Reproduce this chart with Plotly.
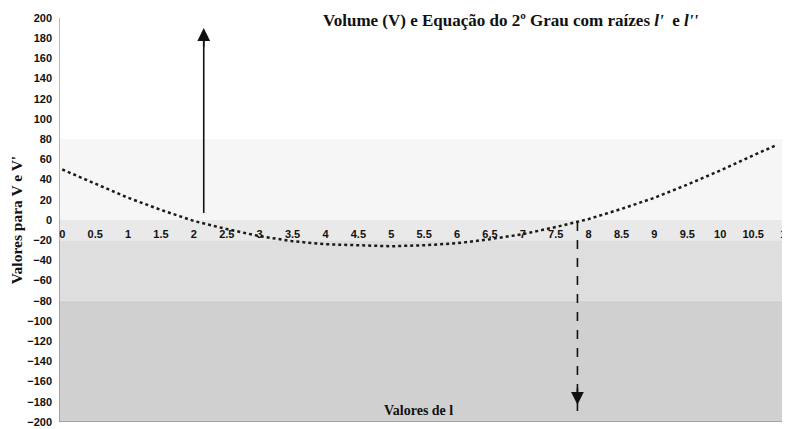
import plotly.graph_objects as go

# Values of l (x) and the quadratic / volume curve
l_values = [0, 0.5, 1, 1.5, 2, 2.5, 3, 3.5, 4, 4.5, 5, 5.5, 6, 6.5, 7, 7.5,
            8, 8.5, 9, 9.5, 10, 10.5, 10.85]
v_values = [50, 36, 22, 10, -1, -9, -16, -21, -24, -25, -26, -25, -23, -19,
            -14, -7, 1, 11, 22, 35, 49, 64, 74]

# Roots l' and l'' marked by arrows
root_1 = 2.15
root_2 = 7.83

x_ticks = [i * 0.5 for i in range(23)]
x_tick_text = ["0", "0.5", "1", "1.5", "2", "2.5", "3", "3.5", "4", "4.5", "5",
               "5.5", "6", "6.5", "7", "7.5", "8", "8.5", "9", "9.5", "10",
               "10.5", "11"]
y_ticks = list(range(-200, 201, 20))

fig = go.Figure()

# scanned stipple background approximation
bands = [(-200, -80, "#d0d0d0"), (-80, -20, "#dedede"), (-20, 0, "#e9e9e9"),
         (0, 80, "#f6f6f6")]
for y0, y1, col in bands:
    fig.add_shape(type="rect", xref="x", yref="y", x0=-0.05, x1=11.0, y0=y0, y1=y1,
                  fillcolor=col, line=dict(width=0), layer="below")

# plot-area border (left, bottom, right)
fig.add_shape(type="path", xref="x", yref="y",
              path="M -0.05,200 L -0.05,-200 L 11.0,-200 L 11.0,200",
              line=dict(color="#777", width=1), layer="below")

fig.add_trace(go.Scatter(
    x=l_values, y=v_values, mode="lines",
    line=dict(color="#1a1a1a", width=2.5, dash="dot"),
    showlegend=False, hoverinfo="skip"))

# up arrow at l'
fig.add_trace(go.Scatter(x=[root_1, root_1], y=[7, 178], mode="lines",
                         line=dict(color="#111", width=1.6),
                         showlegend=False, hoverinfo="skip"))
fig.add_annotation(x=root_1, y=190, ax=root_1, ay=170, xref="x", yref="y",
                   axref="x", ayref="y", text="", showarrow=True,
                   arrowhead=2, arrowsize=1.6, arrowwidth=1.6, arrowcolor="#111")
# down arrow at l''
fig.add_trace(go.Scatter(x=[root_2, root_2], y=[-2, -196], mode="lines",
                         line=dict(color="#111", width=1.6, dash="dash"),
                         showlegend=False, hoverinfo="skip"))
fig.add_annotation(x=root_2, y=-183, ax=root_2, ay=-165, xref="x", yref="y",
                   axref="x", ayref="y", text="", showarrow=True,
                   arrowhead=2, arrowsize=1.6, arrowwidth=1.6, arrowcolor="#111")

fig.add_annotation(
    text="Volume (V) e Equação do 2º Grau com raízes <i>l'</i>  e <i>l''</i>",
    xref="paper", yref="paper", x=0.621, y=0.993, xanchor="center", yanchor="middle",
    showarrow=False,
    font=dict(family="Liberation Serif", size=17, color="#111", weight="bold"))

fig.add_annotation(
    text="Valores de l", xref="x", yref="y", x=5.42, y=-189,
    showarrow=False,
    font=dict(family="Liberation Serif", size=14, color="#111", weight="bold"))

fig.update_layout(
    width=790, height=429,
    margin=dict(l=50, r=12, t=4, b=15),
    paper_bgcolor="white", plot_bgcolor="white",
    xaxis=dict(range=[-0.05, 11.0], tickvals=x_ticks, ticktext=x_tick_text,
               anchor="free", position=0.5, side="bottom",
               showgrid=False, zeroline=False, showline=False, ticks="",
               ticklabelstandoff=6, ticklabeloverflow="allow",
               tickfont=dict(family="Liberation Sans", size=11, color="#111",
                             weight="bold")),
    yaxis=dict(range=[-200, 200], tickvals=y_ticks, showgrid=False,
               zeroline=False, showline=False, ticks="",
               ticklabelstandoff=6, ticklabeloverflow="allow",
               tickfont=dict(family="Liberation Sans", size=11, color="#111",
                             weight="bold"),
               title=dict(text="Valores para V e V'", standoff=4,
                          font=dict(family="Liberation Serif", size=15.5,
                                    color="#111", weight="bold"))),
)

fig.write_html("out.html")
